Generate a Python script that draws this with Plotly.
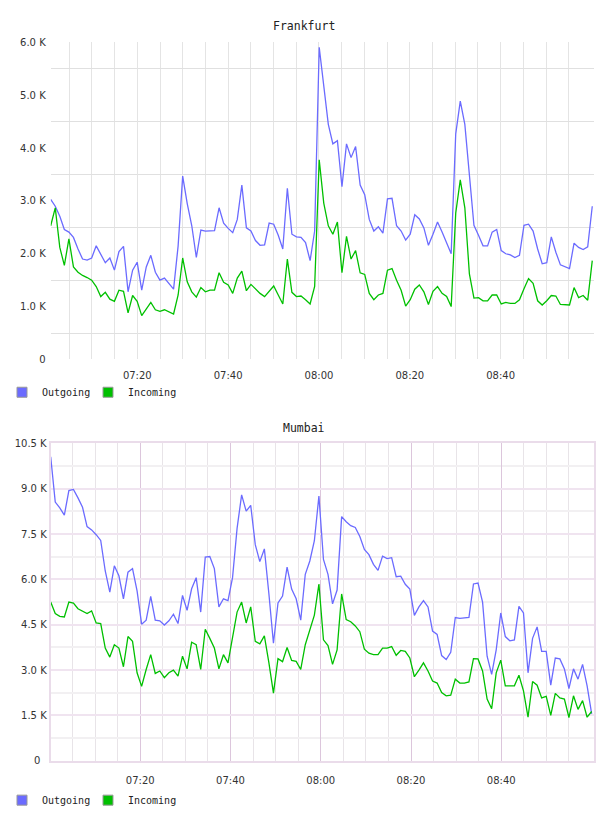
import pandas as pd
import plotly.graph_objects as go

# ---------------- data (values in thousands) ----------------
frankfurt_outgoing = [
    3.03, 2.90, 2.71, 2.46, 2.41, 2.31, 2.09, 1.90, 1.88, 1.92,
    2.15, 2.00, 1.83, 1.92, 1.69, 2.04, 2.14, 1.28, 1.69, 1.84,
    1.31, 1.75, 1.97, 1.65, 1.50, 1.54, 1.44, 1.33, 2.15, 3.47,
    2.95, 2.53, 1.93, 2.45, 2.43, 2.44, 2.44, 2.87, 2.58, 2.48,
    2.40, 2.65, 3.30, 2.49, 2.43, 2.25, 2.16, 2.17, 2.58, 2.56,
    2.35, 2.09, 3.24, 2.37, 2.32, 2.31, 2.21, 1.87, 2.43, 5.91,
    5.20, 4.45, 4.08, 4.14, 3.27, 4.08, 3.82, 4.03, 3.30, 3.12,
    2.65, 2.43, 2.51, 2.39, 3.04, 3.05, 2.53, 2.43, 2.26, 2.37,
    2.74, 2.66, 2.49, 2.16, 2.37, 2.60, 2.41, 2.21, 2.00, 4.27,
    4.89, 4.45, 3.50, 2.54, 2.35, 2.15, 2.15, 2.41, 2.46, 2.06,
    2.00, 1.98, 1.93, 1.97, 2.54, 2.56, 2.43, 2.09, 1.81, 1.83,
    2.32, 2.03, 1.79, 1.75, 1.72, 2.20, 2.12, 2.08, 2.13, 2.90,
]
frankfurt_incoming = [
    2.53, 2.87, 2.12, 1.78, 2.28, 1.75, 1.65, 1.59, 1.55, 1.50,
    1.38, 1.19, 1.27, 1.14, 1.10, 1.31, 1.29, 0.88, 1.21, 1.10,
    0.83, 0.96, 1.08, 0.94, 0.91, 0.94, 0.90, 0.86, 1.22, 1.92,
    1.47, 1.28, 1.18, 1.36, 1.28, 1.31, 1.31, 1.64, 1.46, 1.41,
    1.25, 1.54, 1.67, 1.30, 1.42, 1.34, 1.25, 1.19, 1.29, 1.39,
    1.22, 1.05, 1.90, 1.27, 1.19, 1.20, 1.13, 1.05, 1.38, 3.78,
    2.96, 2.53, 2.37, 2.60, 1.64, 2.33, 1.90, 2.06, 1.64, 1.61,
    1.25, 1.13, 1.22, 1.25, 1.69, 1.72, 1.50, 1.31, 1.01, 1.13,
    1.33, 1.41, 1.28, 1.04, 1.29, 1.38, 1.25, 1.19, 1.00, 2.77,
    3.40, 2.87, 1.62, 1.16, 1.17, 1.11, 1.11, 1.22, 1.22, 1.05,
    1.08, 1.06, 1.06, 1.13, 1.34, 1.53, 1.44, 1.11, 1.03, 1.11,
    1.21, 1.20, 1.04, 1.04, 1.03, 1.36, 1.17, 1.21, 1.12, 1.87,
]
mumbai_outgoing = [
    10.06, 8.56, 8.37, 8.13, 8.94, 8.98, 8.70, 8.39, 7.75, 7.64,
    7.48, 7.29, 6.28, 5.58, 6.45, 6.12, 5.36, 6.24, 6.36, 5.62,
    4.52, 4.65, 5.44, 4.65, 4.63, 4.49, 4.63, 4.85, 4.54, 5.47,
    4.98, 5.69, 6.06, 4.92, 6.74, 6.76, 6.36, 5.09, 5.36, 5.30,
    6.06, 7.69, 8.80, 8.26, 8.45, 7.15, 6.59, 7.01, 5.52, 3.89,
    5.22, 5.45, 6.41, 5.68, 5.36, 4.65, 6.17, 6.61, 7.28, 8.76,
    6.66, 6.17, 5.19, 5.65, 8.08, 7.91, 7.78, 7.72, 7.42, 6.99,
    6.82, 6.50, 6.30, 6.77, 6.69, 6.72, 6.09, 6.11, 5.84, 5.68,
    4.81, 5.09, 5.30, 5.09, 4.29, 4.18, 3.48, 3.35, 3.59, 4.74,
    4.71, 4.72, 4.74, 5.85, 5.88, 5.25, 3.46, 2.86, 3.67, 4.89,
    4.11, 3.97, 4.00, 5.11, 4.89, 2.91, 4.05, 4.43, 3.62, 3.62,
    2.50, 3.40, 3.37, 3.04, 2.39, 3.04, 2.70, 3.19, 2.48, 1.55,
]
mumbai_incoming = [
    5.25, 4.87, 4.78, 4.76, 5.25, 5.22, 5.03, 4.96, 4.87, 4.96,
    4.56, 4.54, 3.73, 3.43, 3.84, 3.73, 3.11, 4.11, 3.95, 2.91,
    2.46, 3.02, 3.51, 2.89, 2.97, 2.75, 2.91, 3.00, 2.80, 3.46,
    3.04, 3.92, 3.84, 3.02, 4.35, 4.05, 3.73, 3.04, 3.51, 3.24,
    4.11, 4.92, 5.25, 4.56, 5.09, 3.95, 3.87, 4.13, 3.24, 2.24,
    3.38, 3.28, 3.75, 3.32, 3.29, 3.02, 3.84, 4.33, 4.82, 5.85,
    4.00, 3.81, 3.19, 3.67, 5.52, 4.67, 4.60, 4.46, 4.27, 3.69,
    3.56, 3.51, 3.51, 3.73, 3.73, 3.78, 3.49, 3.65, 3.62, 3.40,
    2.78, 3.00, 3.24, 2.97, 2.64, 2.57, 2.26, 2.15, 2.17, 2.70,
    2.57, 2.57, 2.61, 3.38, 3.37, 2.97, 2.04, 1.72, 2.91, 3.33,
    2.48, 2.48, 2.48, 2.83, 2.31, 1.44, 2.62, 2.50, 2.08, 2.13,
    1.50, 2.23, 2.08, 2.04, 1.43, 2.15, 1.70, 1.99, 1.44, 1.63,
]

day = "2024-01-01 "
frankfurt_start, frankfurt_end = day + "07:00:56", day + "09:00:10"
mumbai_start, mumbai_end = day + "07:00:09", day + "09:00:02"
axis_end = day + "09:00:29"

frankfurt_times = pd.date_range(frankfurt_start, frankfurt_end, periods=len(frankfurt_outgoing))
mumbai_times = pd.date_range(mumbai_start, mumbai_end, periods=len(mumbai_outgoing))

x_tick_labels = ["07:20", "07:40", "08:00", "08:20", "08:40"]
x_tick_vals = [pd.Timestamp(day + t) for t in x_tick_labels]
x_minor_vals = list(pd.date_range(day + "07:05", day + "08:55", freq="5min"))

frankfurt_y_vals = [0, 1, 2, 3, 4, 5, 6]
frankfurt_y_labels = ["0", "1.0 K", "2.0 K", "3.0 K", "4.0 K", "5.0 K", "6.0 K"]
frankfurt_y_minor = [0.5, 1.5, 2.5, 3.5, 4.5, 5.5]
mumbai_y_vals = [0, 1.5, 3, 4.5, 6, 7.5, 9, 10.5]
mumbai_y_labels = ["0\u00a0\u00a0", "1.5 K", "3.0 K", "4.5 K", "6.0 K", "7.5 K", "9.0 K", "10.5 K"]
mumbai_y_minor = [0.75, 2.25, 3.75, 5.25, 6.75, 8.25, 9.75]

series_names = ["Outgoing", "Incoming"]

# ---------------- styles ----------------
BLUE = "#6b6bff"
GREEN = "#00c000"
W, H = 608, 816
PL, PR = 50.7, 593.7
TICK_FONT = dict(family="DejaVu Sans", size=10, color="#333333")
MONO = "DejaVu Sans Mono"


def py(px):
    return 1 - px / H


fig = go.Figure()

panels = [
    (frankfurt_times, frankfurt_outgoing, frankfurt_incoming, "x", "y", ("legend", "legend3")),
    (mumbai_times, mumbai_outgoing, mumbai_incoming, "x2", "y2", ("legend2", "legend4")),
]
for times, out_v, in_v, xa, ya, lgs in panels:
    for vals, name, col in [(out_v, series_names[0], BLUE), (in_v, series_names[1], GREEN)]:
        fig.add_trace(go.Scatter(
            x=times, y=vals, mode="lines", name=name, xaxis=xa, yaxis=ya,
            line=dict(color=col, width=1.3), showlegend=False, hoverinfo="x+y",
        ))
    for name, col, lg in [(series_names[0], BLUE, lgs[0]), (series_names[1], GREEN, lgs[1])]:
        fig.add_trace(go.Scatter(
            x=[None], y=[None], mode="markers", name=name, xaxis=xa, yaxis=ya,
            marker=dict(symbol="square", size=10, color=col, line=dict(color="#999999", width=1)),
            legend=lg, showlegend=True,
        ))

xcommon = dict(
    type="date", domain=[PL / W, PR / W], tickmode="array",
    tickvals=x_tick_vals, ticktext=x_tick_labels, tickfont=TICK_FONT,
    zeroline=False, ticks="", fixedrange=True, ticklabelstandoff=9,
)
ycommon = dict(tickmode="array", tickfont=TICK_FONT, zeroline=False, ticks="", fixedrange=True)

legend_common = dict(
    orientation="h", xanchor="left", yanchor="middle",
    font=dict(family=MONO, size=10, color="#222222"), bgcolor="rgba(0,0,0,0)",
    itemclick=False, itemdoubleclick=False,
)

fig.update_layout(
    width=W, height=H, margin=dict(l=0, r=0, t=0, b=0),
    paper_bgcolor="white", plot_bgcolor="white",
    xaxis=dict(**xcommon, anchor="y", range=[frankfurt_start, axis_end],
               showgrid=True, gridcolor="#e4e4e4", gridwidth=1,
               minor=dict(tickvals=x_minor_vals, showgrid=True, gridcolor="#e4e4e4", gridwidth=1),
               showline=False),
    yaxis=dict(**ycommon, anchor="x", domain=[py(358.7), py(37)], range=[0, 6],
               tickvals=frankfurt_y_vals, ticktext=frankfurt_y_labels,
               showgrid=False,
               minor=dict(tickvals=frankfurt_y_minor, showgrid=True, gridcolor="#e0e0e0", gridwidth=1),
               showline=False, ticklabelstandoff=4),
    xaxis2=dict(**xcommon, anchor="y2", range=[mumbai_start, axis_end],
                showgrid=True, gridcolor="#dcc6dc", gridwidth=1,
                minor=dict(tickvals=x_minor_vals, showgrid=True, gridcolor="#e8e4e8", gridwidth=1),
                showline=True, mirror=True, linecolor="#eadcea", linewidth=2),
    yaxis2=dict(**ycommon, anchor="x2", domain=[py(766), py(444)], range=[0, 10.5],
                tickvals=mumbai_y_vals, ticktext=mumbai_y_labels,
                showgrid=True, gridcolor="#f0e4f0", gridwidth=2,
                minor=dict(tickvals=mumbai_y_minor, showgrid=True, gridcolor="#f2f0f2", gridwidth=2),
                showline=True, mirror=True, linecolor="#eadcea", linewidth=2, ticklabelstandoff=0),
    legend=dict(**legend_common, x=2 / W, y=py(392)),
    legend3=dict(**legend_common, x=88 / W, y=py(392)),
    legend2=dict(**legend_common, x=2 / W, y=py(806)),
    legend4=dict(**legend_common, x=88 / W, y=py(806)),
    annotations=[
        dict(text="Frankfurt", x=0.5, y=py(20), xref="paper", yref="paper", showarrow=False,
             xanchor="center", yanchor="middle", font=dict(family=MONO, size=11.5, color="#222222")),
        dict(text="Mumbai", x=0.5, y=py(428), xref="paper", yref="paper", showarrow=False,
             xanchor="center", yanchor="middle", font=dict(family=MONO, size=11.5, color="#222222")),
    ],
    hovermode="closest",
)

fig.write_html("out.html")
